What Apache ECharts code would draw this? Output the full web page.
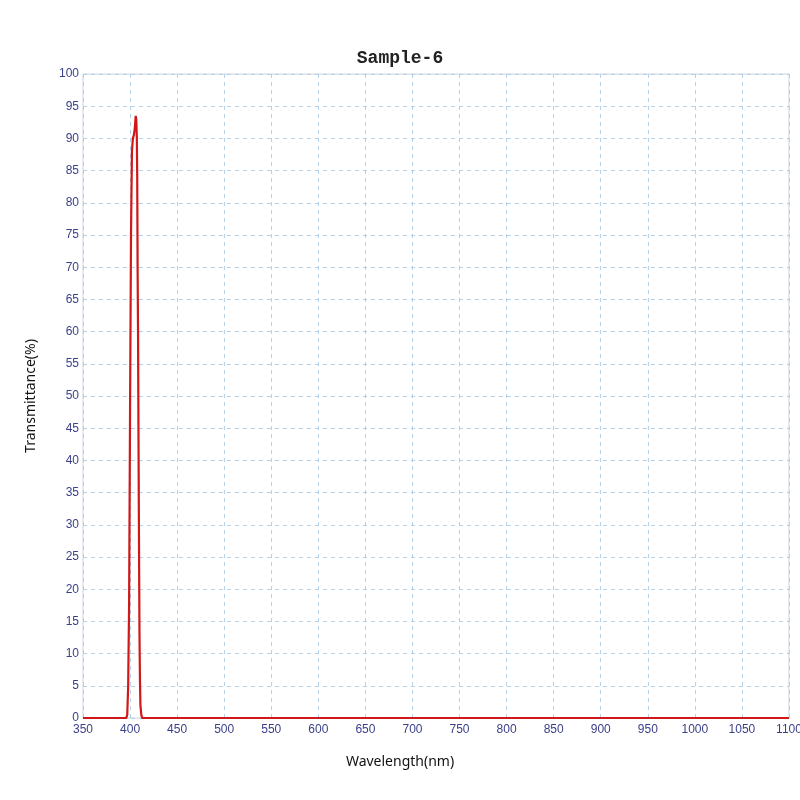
<!DOCTYPE html>
<html>
<head>
<meta charset="utf-8">
<script src="https://cdn.jsdelivr.net/npm/echarts@6/dist/echarts.min.js"></script>
<style>html,body{margin:0;padding:0;background:#fff;}#c{width:800px;height:800px;}</style>
</head>
<body>
<div id="c"></div>
<script>
var wavelengths = [350, 396, 397, 398, 399, 400, 401, 402, 403, 404, 405, 406, 406.6, 407.2, 407.6, 408, 408.5, 409, 409.5, 410, 410.5, 411, 412, 413, 1100];
var transmittance = [0, 0, 0.5, 5, 18, 48, 75, 88, 90, 90.5, 91.5, 93.5, 93, 90, 84, 70, 59, 42, 27, 13, 6, 2, 0.4, 0, 0];
var xTicks = {min: 350, max: 1100, step: 50};
var yTicks = {min: 0, max: 100, step: 5};

var data = wavelengths.map(function (w, i) { return [w, transmittance[i]]; });
var chart = echarts.init(document.getElementById('c'));
chart.setOption({
  backgroundColor: '#fff',
  animation: false,
  title: {
    text: 'Sample-6', left: 'center', top: 44,
    textStyle: {fontFamily: 'Liberation Mono', fontWeight: 'bold', fontSize: 18, color: '#222'}
  },
  grid: {left: 83, right: 11, top: 74, bottom: 82, show: true, borderColor: '#c8d4e0', borderWidth: 1,
         containLabel: false, outerBoundsMode: 'none'},
  xAxis: {
    type: 'value', min: xTicks.min, max: xTicks.max, interval: xTicks.step,
    name: 'Wavelength(nm)', nameLocation: 'middle', nameGap: 37,
    nameTextStyle: {fontFamily: 'Noto Sans', fontSize: 14, color: '#111', padding: [0, 72, 0, 0]},
    axisLine: {show: false}, axisTick: {show: false},
    axisLabel: {color: '#3a3f8a', fontSize: 12, fontFamily: 'Liberation Sans', margin: 6,
                formatter: function (v) { return String(v); }},
    splitLine: {show: true, lineStyle: {color: '#b6d0e6', type: [4, 4], width: 1}}
  },
  yAxis: {
    type: 'value', min: yTicks.min, max: yTicks.max, interval: yTicks.step,
    name: 'Transmittance(%)', nameLocation: 'middle', nameGap: 45, nameRotate: 90,
    nameTextStyle: {fontFamily: 'Noto Sans', fontSize: 14, color: '#111'},
    axisLine: {show: false}, axisTick: {show: false},
    axisLabel: {color: '#3a3f8a', fontSize: 12, fontFamily: 'Liberation Sans', margin: 4,
                formatter: function (v) { return String(v); }},
    splitLine: {show: true, lineStyle: {color: '#b6d0e6', type: [4, 4], width: 1}}
  },
  series: [{
    type: 'line', data: data, showSymbol: false, symbol: 'none',
    lineStyle: {color: '#d01818', width: 2.2}
  }]
});
</script>
</body>
</html>
